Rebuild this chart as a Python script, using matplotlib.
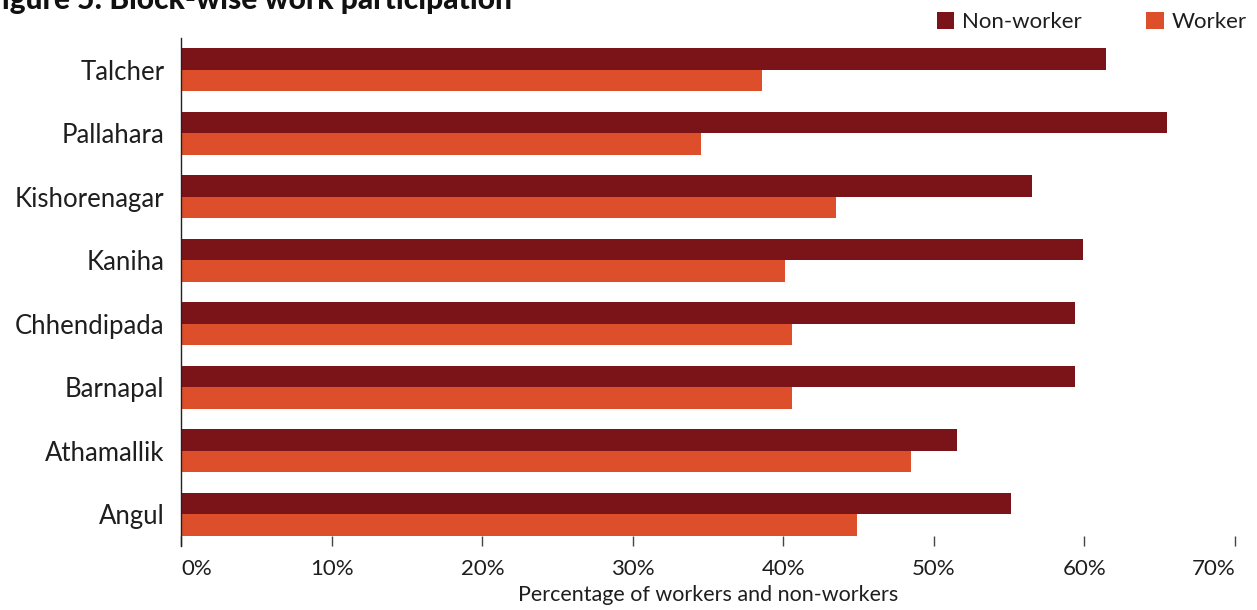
import matplotlib
matplotlib.use("Agg")
import matplotlib.pyplot as plt
import numpy as np

blocks = ["Talcher", "Pallahara", "Kishorenagar", "Kaniha",
          "Chhendipada", "Barnapal", "Athamallik", "Angul"]
non_worker = [61.4, 65.5, 56.5, 59.9, 59.4, 59.4, 51.5, 55.1]
worker = [38.6, 34.5, 43.5, 40.1, 40.6, 40.6, 48.5, 44.9]
x_ticks = [0, 10, 20, 30, 40, 50, 60, 70]
x_tick_labels = ["0%", "10%", "20%", "30%", "40%", "50%", "60%", "70%"]

NON_WORKER_COLOR = "#7a1418"
WORKER_COLOR = "#dd4f2a"
TEXT_COLOR = "#1e1e1e"

plt.rcParams["font.family"] = ["Lato", "DejaVu Sans"]

fig = plt.figure(figsize=(12.57, 6.10), dpi=100)
ax = fig.add_axes([0.1442, 0.1049, 0.8383, 0.8328])

n = len(blocks)
pos = np.arange(n)[::-1]  # first block at the top
h = 0.335

ax.barh(pos + h / 2, non_worker, height=h, color=NON_WORKER_COLOR,
        label="Non-worker", linewidth=0)
ax.barh(pos - h / 2, worker, height=h, color=WORKER_COLOR,
        label="Worker", linewidth=0)

ax.set_xlim(0, 70)
ax.set_ylim(-0.5, n - 0.5)

ax.set_yticks(pos)
ax.set_yticklabels(blocks, fontsize=18.5, color=TEXT_COLOR)
ax.tick_params(axis="y", length=0, pad=12)

ax.set_xticks(x_ticks)
ax.set_xticklabels(x_tick_labels, fontsize=16, color=TEXT_COLOR)
ax.tick_params(axis="x", direction="in", length=7, width=1,
               color="#444444", pad=9)
labels = ax.get_xticklabels()
labels[0].set_ha("left")
labels[-1].set_ha("right")

ax.set_xlabel("Percentage of workers and non-workers", fontsize=15.5,
              color=TEXT_COLOR, labelpad=5)

for side in ("top", "right", "bottom"):
    ax.spines[side].set_visible(False)
ax.spines["left"].set_color("#222222")
ax.spines["left"].set_linewidth(1)

fig.legend(loc="upper right", bbox_to_anchor=(1.008, 1.013), ncol=2,
           frameon=False, fontsize=16, handlelength=0.8, handleheight=0.8,
           handletextpad=0.35, columnspacing=2.9, labelcolor=TEXT_COLOR)

fig.text(-0.012, 1 - 9 / 610, "Figure 5: Block-wise work participation",
         fontsize=21.5, fontweight="black", color="#111111",
         ha="left", va="baseline")

fig.savefig("out.png", dpi=100, facecolor="white")
